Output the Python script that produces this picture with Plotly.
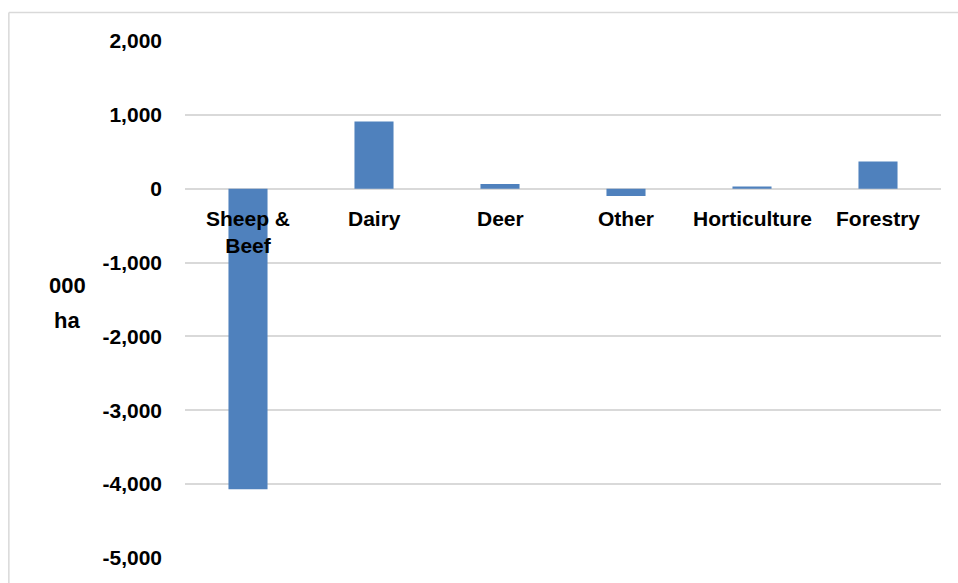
import plotly.graph_objects as go

# Change in land use by farm type (thousand hectares)
categories = ["Sheep & Beef", "Dairy", "Deer", "Other", "Horticulture", "Forestry"]
category_labels = ["Sheep &<br>Beef", "Dairy", "Deer", "Other", "Horticulture", "Forestry"]
change_kha = [-4070, 910, 65, -100, 30, 370]

tick_values = [2000, 1000, 0, -1000, -2000, -3000, -4000, -5000]
tick_labels = ["2,000", "1,000", "0", "-1,000", "-2,000", "-3,000", "-4,000", "-5,000"]

FONT = "Liberation Sans, Arial, sans-serif"
BAR_COLOR = "#4F81BD"
GRID_COLOR = "#D9D9D9"

fig = go.Figure()
fig.add_trace(go.Bar(
    x=categories,
    y=change_kha,
    marker=dict(color=BAR_COLOR, line=dict(width=0)),
    width=0.31,
    hoverinfo="x+y",
))

# Category labels sit just below the zero line
for cat, label in zip(categories, category_labels):
    fig.add_annotation(
        x=cat, y=0, xref="x", yref="y",
        text=label,
        showarrow=False,
        yanchor="top", yshift=-16,
        font=dict(family=FONT, size=21, color="#000000", weight="bold"),
    )

# Axis title, two stacked lines
for text, ypos in [("000", 0.528), ("ha", 0.460)]:
    fig.add_annotation(
        x=-0.156, y=ypos, xref="paper", yref="paper",
        text=text,
        showarrow=False,
        xanchor="center", yanchor="middle",
        font=dict(family=FONT, size=22, color="#000000", weight="bold"),
    )

# Chart border (top and left edges visible)
fig.add_shape(
    type="line", xref="paper", yref="paper",
    x0=-0.233, x1=1.03, y0=1.055, y1=1.055,
    line=dict(color="#D9D9D9", width=1.5),
)
fig.add_shape(
    type="line", xref="paper", yref="paper",
    x0=-0.233, x1=-0.233, y0=1.055, y1=-0.06,
    line=dict(color="#D9D9D9", width=1.5),
)

fig.update_layout(
    width=958, height=583,
    margin=dict(l=185, r=17, t=41, b=25),
    paper_bgcolor="white",
    plot_bgcolor="white",
    showlegend=False,
    xaxis=dict(
        categoryorder="array", categoryarray=categories,
        showticklabels=False, showgrid=False, zeroline=False,
        showline=False, ticks="",
        range=[-0.5, 5.5],
    ),
    yaxis=dict(
        range=[-5000, 2000],
        tickmode="array", tickvals=tick_values, ticktext=tick_labels,
        showgrid=True, gridcolor=GRID_COLOR, gridwidth=1.5,
        zeroline=True, zerolinecolor=GRID_COLOR, zerolinewidth=1.5,
        showline=False, ticks="",
        ticklabelstandoff=22,
        tickfont=dict(family=FONT, size=21, color="#000000", weight="bold"),
    ),
)

fig.write_html("out.html")
